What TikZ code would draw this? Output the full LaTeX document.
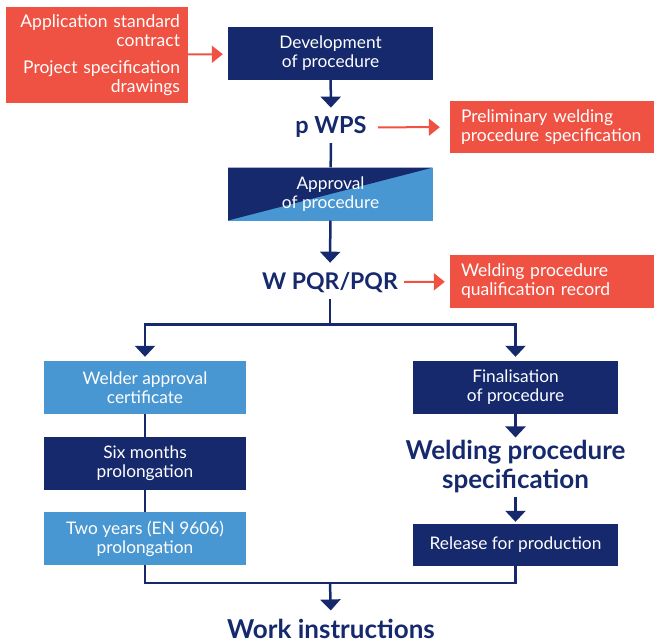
\documentclass[tikz,border=0pt]{standalone}
\usepackage{fontspec}
\setmainfont{Lato}
\usetikzlibrary{arrows.meta}
\definecolor{navy}{HTML}{15296C}
\definecolor{sky}{HTML}{4897D2}
\definecolor{coral}{HTML}{EF5142}
\tikzset{
  box/.style={rectangle, inner sep=0pt, minimum width=205pt, minimum height=53pt,
    text=white, align=center, font=\fontsize{17.3}{19}\selectfont},
  darkbox/.style={box, fill=navy},
  lightbox/.style={box, fill=sky},
  redbox/.style={rectangle, fill=coral, text=white, inner ysep=0pt,
    font=\fontsize{17.5}{19}\selectfont},
  head/.style={text=navy, inner sep=0pt, font=\bfseries\fontsize{23.5}{27}\selectfont},
  bighead/.style={text=navy, inner sep=0pt, align=center,
    font=\bfseries\fontsize{26}{29}\selectfont},
  flow/.style={draw=navy, line width=2.5pt, -{Triangle[width=20pt,length=11pt]}},
  link/.style={draw=navy, line width=2.5pt},
  redflow/.style={draw=coral, line width=2pt, -{Triangle[width=17pt,length=11pt]}},
}
\begin{document}
\begin{tikzpicture}[x=1pt, y=-1pt]
\useasboundingbox (0,0) rectangle (654,642);

% inputs and procedure development
\node[redbox, text width=166pt, inner xsep=8pt, minimum height=96pt, align=right]
  (inputs) at (97,55) {Application standard\\contract\\[8pt]Project specification\\drawings};
\node[darkbox] (dev) at (330.5,53.5) {Development\\of procedure};
\draw[redflow, shorten >=5pt] (inputs) -- (dev);

% preliminary WPS
\node[head, anchor=base] (pwps) at (331,134) {p WPS};
\draw[flow, shorten >=9pt] (dev) -- (pwps);
\node[redbox, text width=182pt, inner xsep=11pt, minimum height=52pt, align=left]
  (prelim) at (552,127) {Preliminary welding\\procedure specification};
\draw[redflow, shorten <=11pt, shorten >=10pt] (pwps) -- (prelim);

% approval with split fill
\node[lightbox, path picture={
    \fill[navy] (path picture bounding box.south west) -- (path picture bounding box.north west)
      -- (path picture bounding box.north east) -- cycle;}]
  (appr) at (330.5,194) {Approval\\of procedure};
\draw[link, shorten <=5pt] (pwps) -- (appr);

% procedure qualification record
\node[head, font=\bfseries\fontsize{23}{27}\selectfont, anchor=base] (pqr) at (330,289) {W PQR/PQR};
\draw[flow, shorten >=9pt] (appr) -- (pqr);
\node[redbox, text width=182pt, inner xsep=11pt, minimum height=53pt, align=left]
  (record) at (552,281.5) {Welding procedure\\qualification record};
\draw[redflow, shorten <=6pt, shorten >=5pt] (pqr) -- (record);

% left branch: welder approval
\node[lightbox, minimum width=202pt] (welder) at (145,387.5) {Welder approval\\certificate};
\node[darkbox, minimum width=202pt] (six) at (145,463.5) {Six months\\prolongation};
\node[lightbox, minimum width=202pt] (two) at (145,538.5) {Two years (EN 9606)\\prolongation};
\draw[link] (welder) -- (six);
\draw[link] (six) -- (two);

% right branch: procedure finalisation
\node[darkbox] (final) at (515.5,387.5) {Finalisation\\of procedure};
\node[bighead] (wps) at (515.5,467) {Welding procedure\\specification};
\node[darkbox, minimum height=42pt] (release) at (515.5,545) {Release for production};
\draw[flow, shorten >=3pt] (final) -- (wps);
\draw[flow, shorten <=3pt, shorten >=2pt] (wps) -- (release);

% split after PQR
\coordinate (split) at (330,324.5);
\draw[link, shorten <=7pt] (pqr.south) -- (split);
\draw[flow, shorten >=4pt] (split) -| (welder.north);
\draw[flow, shorten >=4pt] (split) -| (final.north);

% merge into work instructions
\coordinate (merge) at (330,583);
\node[head, font=\bfseries\fontsize{26}{30}\selectfont, anchor=base] (work) at (331,638) {Work instructions};
\draw[link] (two.south) |- (merge);
\draw[link] (release.south) |- (merge);
\draw[flow, shorten >=8pt] (merge) -- (work.north);
\end{tikzpicture}
\end{document}
